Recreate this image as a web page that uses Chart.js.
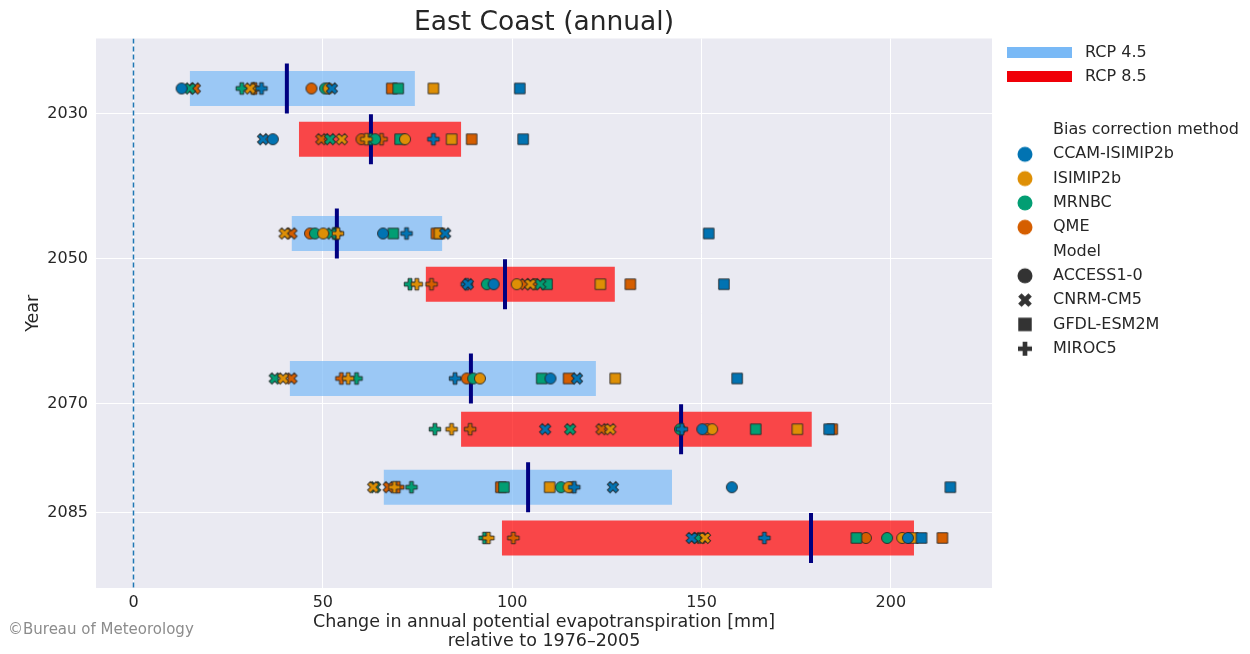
<!DOCTYPE html>
<html>
<head>
<meta charset="utf-8">
<script src="https://cdn.jsdelivr.net/npm/chart.js@4.4.0/dist/chart.umd.min.js"></script>
<style>
  html, body { margin: 0; padding: 0; background: #ffffff; }
  #wrap { position: relative; width: 1250px; height: 654px; }
</style>
</head>
<body>
<div id="wrap"><canvas id="chart" width="1250" height="654"></canvas></div>
<script>
// ---- data ----
const years = [2030, 2050, 2070, 2085];
const xTicks = [0, 50, 100, 150, 200];
const scenarios = ['RCP 4.5', 'RCP 8.5'];

// range of the models and their median, per year
const rcp45Low = [14.9, 41.8, 41.3, 66.1];
const rcp45High = [74.3, 81.5, 122.1, 142.2];
const rcp45Median = [40.5, 53.7, 89.1, 104.2];
const rcp85Low = [43.7, 77.2, 86.5, 97.3];
const rcp85High = [86.5, 127.1, 179.1, 206.1];
const rcp85Median = [62.7, 98.1, 144.6, 178.9];

const methods = ['CCAM-ISIMIP2b', 'ISIMIP2b', 'MRNBC', 'QME'];
const models = ['ACCESS1-0', 'CNRM-CM5', 'GFDL-ESM2M', 'MIROC5'];

// one value per row: 2030 4.5, 2030 8.5, 2050 4.5, 2050 8.5, 2070 4.5, 2070 8.5, 2085 4.5, 2085 8.5
const ccamAccess = [12.7, 36.8, 65.9, 95.1, 110.1, 150.2, 158.0, 204.5];
const ccamCnrm   = [52.4, 34.2, 82.3, 88.3, 117.1, 108.7, 126.6, 147.4];
const ccamGfdl   = [102.0, 102.9, 151.9, 155.9, 159.4, 183.7, 215.7, 208.1];
const ccamMiroc  = [33.8, 79.2, 72.1, 88.0, 84.9, 144.8, 116.4, 166.6];

const isiAccess = [51.5, 71.7, 50.1, 101.2, 91.5, 152.8, 114.9, 203.0];
const isiCnrm   = [30.8, 55.0, 39.9, 104.8, 39.5, 125.9, 63.3, 150.9];
const isiGfdl   = [79.2, 84.0, 80.8, 123.3, 127.2, 175.3, 109.9, 205.8];
const isiMiroc  = [31.5, 61.5, 54.0, 74.8, 56.7, 84.0, 68.9, 93.7];

const mrnAccess = [50.6, 63.8, 47.9, 93.3, 89.7, 144.3, 112.9, 199.0];
const mrnCnrm   = [14.9, 51.9, 52.3, 107.4, 37.3, 115.3, 63.8, 148.9];
const mrnGfdl   = [69.9, 70.4, 68.6, 109.2, 107.8, 164.3, 97.8, 190.9];
const mrnMiroc  = [28.6, 62.6, 53.0, 73.0, 58.9, 79.6, 73.4, 92.7];

const qmeAccess = [47.0, 60.2, 46.6, 106.0, 88.0, 151.5, 115.6, 193.4];
const qmeCnrm   = [16.2, 49.6, 41.7, 103.4, 41.7, 123.6, 67.4, 149.8];
const qmeGfdl   = [68.2, 89.3, 80.0, 131.2, 114.9, 184.5, 97.0, 213.6];
const qmeMiroc  = [32.1, 65.5, 53.5, 78.7, 54.9, 88.9, 69.9, 100.3];

// ---- styles ----
const methodColors = ['#0173b2', '#de8f05', '#029e73', '#d55e00'];
const modelShapes = ['circle', 'x', 'square', 'plus'];
const blueBar = 'rgba(121, 185, 246, 0.7)';
const redBar = 'rgba(255, 0, 0, 0.7)';
const textColor = '#262626';
const font = 'DejaVu Sans';
const rowShift = 3.5;     // years above / below the tick for each scenario
const medianHalf = 3.45;

const markerValues = [
  [ccamAccess, ccamCnrm, ccamGfdl, ccamMiroc],
  [isiAccess, isiCnrm, isiGfdl, isiMiroc],
  [mrnAccess, mrnCnrm, mrnGfdl, mrnMiroc],
  [qmeAccess, qmeCnrm, qmeGfdl, qmeMiroc]
];

const rowY = k => years[k >> 1] + (k % 2 ? rowShift : -rowShift);

function makeMarker(shape, fill, stroke, size, box) {
  const c = document.createElement('canvas');
  c.width = box; c.height = box;
  const g = c.getContext('2d');
  g.translate(box / 2, box / 2);
  g.beginPath();
  if (shape === 'circle') {
    g.arc(0, 0, size / 2, 0, Math.PI * 2);
  } else if (shape === 'square') {
    g.rect(-size / 2, -size / 2, size, size);
  } else {
    if (shape === 'x') g.rotate(Math.PI / 4);
    const u = size / 6;
    const pts = [[-1, -3], [1, -3], [1, -1], [3, -1], [3, 1], [1, 1], [1, 3], [-1, 3], [-1, 1], [-3, 1], [-3, -1], [-1, -1]];
    pts.forEach((p, i) => i ? g.lineTo(p[0] * u, p[1] * u) : g.moveTo(p[0] * u, p[1] * u));
  }
  g.closePath();
  g.fillStyle = fill;
  g.fill();
  if (stroke) {
    g.strokeStyle = stroke;
    g.lineWidth = 1;
    g.stroke();
  }
  return c;
}

const plotSizes = { circle: 11, x: 12, square: 10.5, plus: 11.5 };
const legendSizes = { circle: 15, x: 14.5, square: 13.5, plus: 14 };

const datasets = [];

// scatter markers, one dataset per method / model
methods.forEach((m, mi) => {
  models.forEach((d, di) => {
    const shape = modelShapes[di];
    datasets.push({
      type: 'scatter',
      label: m + ' ' + d,
      data: markerValues[mi][di].map((v, k) => ({ x: v, y: rowY(k) })),
      pointStyle: makeMarker(shape, methodColors[mi], 'rgba(35,35,35,0.85)', plotSizes[shape], 16),
      pointRadius: 6,
      order: 0
    });
  });
});

// medians and ranges
years.forEach((yr, i) => {
  [[rcp45Low, rcp45High, rcp45Median, blueBar, -rowShift], [rcp85Low, rcp85High, rcp85Median, redBar, rowShift]].forEach(s => {
    const y = yr + s[4];
    datasets.push({
      type: 'line',
      data: [{ x: s[2][i], y: y - medianHalf }, { x: s[2][i], y: y + medianHalf }],
      borderColor: '#000080',
      borderWidth: 4,
      pointRadius: 0,
      order: 1
    });
    datasets.push({
      type: 'line',
      data: [{ x: s[0][i], y: y }, { x: s[1][i], y: y }],
      borderColor: s[3],
      borderWidth: 35,
      pointRadius: 0,
      order: 3
    });
  });
});

const yMin = 2019.6, yMax = 2095.4;

// zero reference line
datasets.push({
  type: 'line',
  data: [{ x: 0, y: yMin }, { x: 0, y: yMax }],
  borderColor: '#1f77b4',
  borderWidth: 1.5,
  borderDash: [5, 3],
  pointRadius: 0,
  order: 2
});

const plotBackground = {
  id: 'plotBackground',
  beforeDraw: (chart) => {
    const { ctx, chartArea } = chart;
    ctx.save();
    ctx.fillStyle = '#eaeaf2';
    ctx.fillRect(chartArea.left, chartArea.top, chartArea.right - chartArea.left, chartArea.bottom - chartArea.top);
    ctx.restore();
  }
};

const sideLegend = {
  id: 'sideLegend',
  afterDraw: (chart) => {
    const { ctx } = chart;
    ctx.save();
    ctx.font = '16px "' + font + '"';
    ctx.fillStyle = textColor;
    ctx.textBaseline = 'middle';

    // scenario patches
    ctx.fillStyle = 'rgb(121, 185, 246)';
    ctx.fillRect(1007, 47, 65, 11);
    ctx.fillStyle = 'rgb(240, 0, 8)';
    ctx.fillRect(1007, 71, 65, 11);
    ctx.fillStyle = textColor;
    ctx.fillText(scenarios[0], 1085, 53);
    ctx.fillText(scenarios[1], 1085, 77);

    const step = 24.3;
    let y = 130;
    ctx.fillText('Bias correction method', 1053, y);
    methods.forEach((m, i) => {
      y += step;
      const img = makeMarker('circle', methodColors[i], null, legendSizes.circle, 18);
      ctx.drawImage(img, 1025 - 9, y - 9);
      ctx.fillText(m, 1053, y);
    });
    y += step;
    ctx.fillText('Model', 1053, y);
    models.forEach((d, i) => {
      y += step;
      const shape = modelShapes[i];
      const img = makeMarker(shape, '#333333', null, legendSizes[shape], 18);
      ctx.drawImage(img, 1025 - 9, y - 9);
      ctx.fillText(d, 1053, y);
    });

    ctx.font = '15px "' + font + '"';
    ctx.fillStyle = '#8c8c8c';
    ctx.fillText('\u00a9Bureau of Meteorology', 8, 630);
    ctx.restore();
  }
};

Chart.defaults.font.family = font;
Chart.defaults.color = textColor;

new Chart(document.getElementById('chart').getContext('2d'), {
  type: 'scatter',
  data: { datasets: datasets },
  options: {
    responsive: false,
    animation: false,
    events: [],
    layout: { padding: { left: 0, right: 258, top: 0, bottom: 0 } },
    plugins: {
      legend: { display: false },
      tooltip: { enabled: false },
      title: {
        display: true,
        fullSize: false,
        text: 'East Coast (annual)',
        color: textColor,
        font: { size: 26.5, weight: 'normal', lineHeight: 1.15 },
        padding: { top: 8, bottom: 0 }
      }
    },
    scales: {
      x: {
        type: 'linear',
        min: -9.9,
        max: 226.7,
        afterBuildTicks: (s) => { s.ticks = xTicks.map(v => ({ value: v })); },
        afterFit: (s) => { s.height = 66; },
        grid: { color: '#ffffff', lineWidth: 1, drawTicks: false },
        border: { display: false },
        ticks: { color: textColor, font: { size: 16 }, padding: 5 },
        title: {
          display: true,
          text: ['Change in annual potential evapotranspiration [mm]', 'relative to 1976\u20132005'],
          color: textColor,
          font: { size: 17.5, lineHeight: 1.1 },
          padding: { top: 0, bottom: 3 }
        }
      },
      y: {
        type: 'linear',
        reverse: true,
        min: yMin,
        max: yMax,
        afterBuildTicks: (s) => { s.ticks = years.map(v => ({ value: v })); },
        afterFit: (s) => { s.width = 96; },
        grid: { color: '#ffffff', lineWidth: 1, drawTicks: false },
        border: { display: false },
        ticks: { color: textColor, font: { size: 16 }, padding: 8, callback: v => String(v) },
        title: {
          display: true,
          text: 'Year',
          color: textColor,
          font: { size: 17.5 },
          padding: { top: 23, bottom: 0 }
        }
      }
    }
  },
  plugins: [plotBackground, sideLegend]
});
</script>
</body>
</html>
